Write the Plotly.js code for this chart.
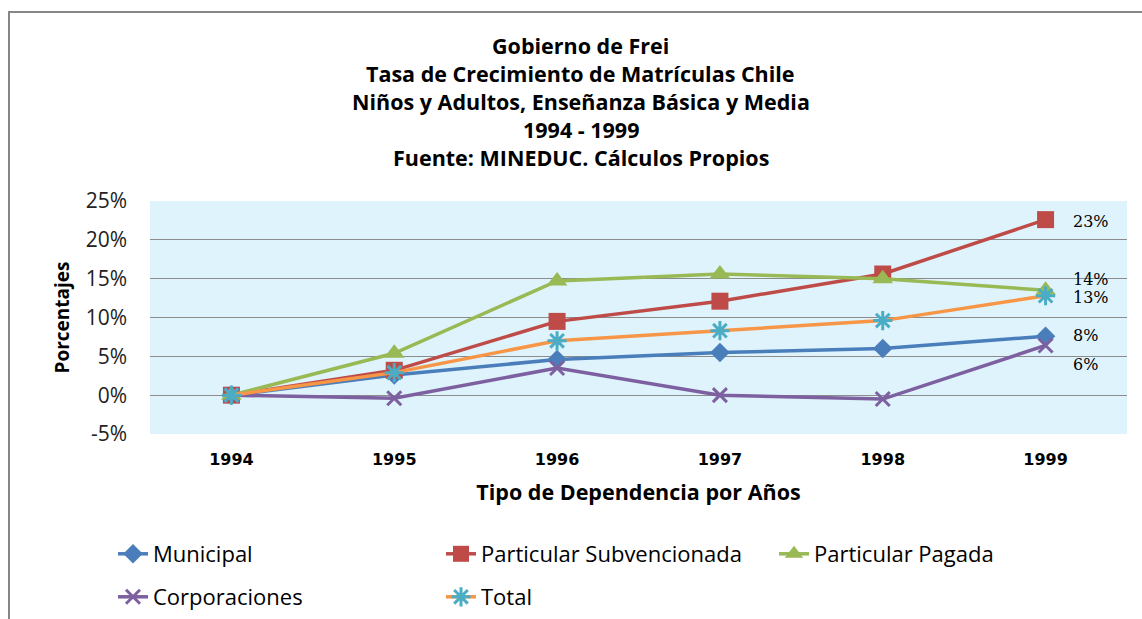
<!DOCTYPE html>
<html>
<head>
<meta charset="utf-8">
<script src="https://cdn.plot.ly/plotly-3.0.1.min.js"></script>
<style>html,body{margin:0;padding:0;background:#fff;}#chart{width:1142px;height:619px;}</style>
</head>
<body>
<div id="chart"></div>
<script>
var years = ['1994','1995','1996','1997','1998','1999'];
var municipal      = [0, 2.6, 4.6, 5.5, 6.0, 7.6];
var subvencionada  = [0, 3.2, 9.5, 12.1, 15.6, 22.6];
var pagada         = [0, 5.4, 14.7, 15.6, 15.0, 13.5];
var corporaciones  = [0, -0.4, 3.5, 0.0, -0.5, 6.4];
var total          = [0, 2.9, 7.0, 8.3, 9.6, 12.8];
var seriesNames = ['Municipal','Particular Subvencionada','Particular Pagada','Corporaciones','Total'];
var yTickVals   = [-5, 0, 5, 10, 15, 20, 25];
var yTickLabels = ['-5%','0%','5%','10%','15%','20%','25%'];
var titleLines = ['Gobierno de Frei','Tasa de Crecimiento de Matrículas Chile','Niños y Adultos, Enseñanza Básica y Media','1994 - 1999','Fuente: MINEDUC. Cálculos Propios'];
var xTitle = 'Tipo de Dependencia por Años';
var yTitle = 'Porcentajes';

var W = 1142, H = 619, ML = 150, MR = 15, MT = 201, MB = 185;
var PW = W - ML - MR, PH = H - MT - MB;
var sans = 'Open Sans, Noto Sans, sans-serif';

function tr(name, y, lineColor, marker, legend) {
  return {type:'scatter', mode:'lines+markers', name:name, x:years, y:y,
    line:{color:lineColor, width:3.5}, marker:marker, legend:legend,
    hoverinfo:'x+y+name'};
}
var data = [
  tr(seriesNames[0], municipal, '#4A7EBB', {symbol:'diamond', size:15, color:'#4A7EBB'}, 'legend'),
  tr(seriesNames[1], subvencionada, '#BE4B48', {symbol:'square', size:17, color:'#BE4B48'}, 'legend'),
  tr(seriesNames[2], pagada, '#98B954', {symbol:'triangle-up', size:18, color:'#98B954'}, 'legend3'),
  tr(seriesNames[3], corporaciones, '#7D60A0', {symbol:'x-thin-open', size:14, color:'#7D60A0', line:{color:'#7D60A0', width:3}}, 'legend2'),
  tr(seriesNames[4], total, '#F79646', {symbol:'asterisk-open', size:16, color:'#4BACC6', line:{color:'#4BACC6', width:3}}, 'legend2')
];

var annotations = [];
var ty = [45, 73, 101, 129, 157];
titleLines.forEach(function(t, i){
  annotations.push({text:'<b>'+t+'</b>', xref:'paper', yref:'paper', x:0.5, xshift:-58,
    y:(H - MB - ty[i]) / PH, yanchor:'middle', showarrow:false,
    font:{family:sans, size:21.5, color:'#000'}});
});
var allSeries = [municipal, subvencionada, pagada, corporaciones, total];
var labelShift = [1, -2, 11, -19, -2];
var lastIdx = years.length - 1;
allSeries.forEach(function(s, i){
  var v = s[lastIdx];
  annotations.push({text: Math.round(v) + '%', x: lastIdx, y: v, xref:'x', yref:'y',
    xanchor:'left', yanchor:'middle', xshift:25, yshift:labelShift[i], showarrow:false,
    font:{family:'DejaVu Serif, serif', size:16, color:'#000'}});
});

function leg(xpx, ytop) {
  return {orientation:'h', xref:'container', yref:'container', x:xpx/W, y:1-ytop/H, xanchor:'left', yanchor:'top',
    font:{family:sans, size:22, color:'#000'}, entrywidth:283, entrywidthmode:'pixels', bgcolor:'rgba(0,0,0,0)'};
}

var layout = {
  width:W, height:H,
  margin:{l:ML, r:MR, t:MT, b:MB},
  paper_bgcolor:'#ffffff', plot_bgcolor:'#DFF3FC',
  showlegend:true,
  xaxis:{type:'category', range:[-0.5,5.5], showgrid:false, zeroline:false, showline:false,
    ticks:'', ticklabelstandoff:14, tickfont:{family:'DejaVu Sans, sans-serif', size:16, color:'#000', weight:'bold'},
    title:{text:'<b>'+xTitle+'</b>', font:{family:sans, size:21.5, color:'#000'}, standoff:16}},
  yaxis:{range:[-5,25], tickvals:yTickVals, ticktext:yTickLabels, showgrid:true, gridcolor:'#8c8c8c', gridwidth:1,
    zeroline:false, showline:false, ticks:'', ticklen:0, ticklabelstandoff:22,
    tickfont:{family:sans, size:21, color:'#222'},
    title:{text:'<b>'+yTitle+'</b>', font:{family:sans, size:19, color:'#000'}, standoff:10}},
  legend:leg(113, 533),
  legend2:leg(113, 576),
  legend3:leg(774, 533),
  annotations:annotations,
  shapes:[{type:'rect', xref:'paper', yref:'paper', layer:'below',
    x0:(9-ML)/PW, x1:(W+20-ML)/PW, y0:(H-MB-(H+20))/PH, y1:(H-MB-12)/PH,
    line:{color:'#868686', width:2}, fillcolor:'rgba(0,0,0,0)'}]
};
Plotly.newPlot('chart', data, layout, {displayModeBar:false, staticPlot:true});
</script>
</body>
</html>
